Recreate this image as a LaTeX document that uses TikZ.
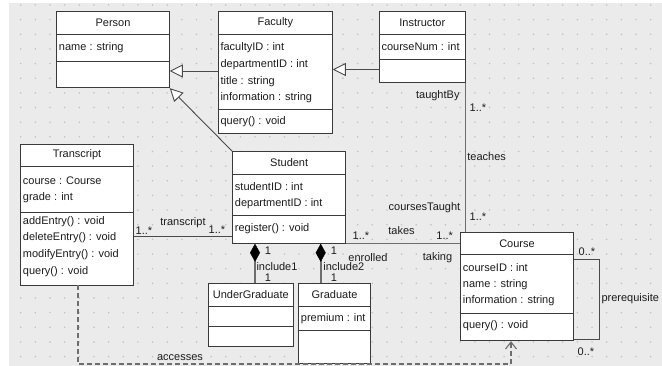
\documentclass[tikz,border=0pt]{standalone}
\usepackage{fontspec}
\setmainfont{Liberation Sans}
\usetikzlibrary{arrows.meta,fit}
\definecolor{bg}{HTML}{EBEBEB}
\definecolor{dotc}{HTML}{C0C0C0}
\definecolor{edge}{HTML}{3A3A3A}
\definecolor{conn}{HTML}{4A4A4A}
\definecolor{conng}{HTML}{6E6E6E}
\definecolor{txt}{HTML}{1C1C1C}
\tikzset{
  classbox/.style={draw=edge, line width=0.9pt, fill=white, inner sep=0pt},
  divider/.style={draw=edge, line width=0.9pt},
  ctitle/.style={font=\fontsize{11}{13}\selectfont, text=txt, inner sep=0pt},
  attr/.style={font=\fontsize{11}{13}\selectfont, text=txt, inner sep=0pt, anchor=west, xshift=2.5pt},
  lbl/.style={font=\fontsize{11}{13}\selectfont, text=txt, inner sep=0pt},
  assoc/.style={draw=conn, line width=0.9pt},
  heavy/.style={draw=conng, line width=1.4pt},
  gen/.style={assoc, -{Triangle[open, fill=white, length=13pt, width=13pt]}},
  comp/.style={draw=conng, line width=1.6pt, {Diamond[length=18pt, width=10pt, color=black, line width=0.4pt]}-},
  dep/.style={draw=conng, line width=1.1pt, dash pattern=on 5pt off 3pt, -{Straight Barb[length=7pt, width=11pt]}},
}
\newcommand{\umlcls}[8]{%
  \node[classbox, fit={(#2,#3) (#4,#5)}] (#1) {};
  \draw[divider] (#1.west |- 0,#6) -- (#1.east |- 0,#6);
  \draw[divider] (#1.west |- 0,#7) -- (#1.east |- 0,#7);
  \node[ctitle] (#1-title) at ({(#2+#4)/2},{(#3+#6)/2}) {#8};
}
\newcommand{\umlattr}[4]{\node[attr] (#1) at (#2.west |- 0,#3) {#4};}
\begin{document}
\begin{tikzpicture}[x=1pt, y=-1pt]
\useasboundingbox (0,0) rectangle (662,366);
\fill[white] (0,0) rectangle (662,366);
\fill[bg] (9,3) rectangle (662,366);
\begin{scope}
\clip (9,3) rectangle (662,366);
\foreach \i in {0,...,44}{\foreach \j in {0,...,24}{
  \fill[dotc] ({20.7+14.65*\i},{5+14.65*\j}) circle[radius=0.85pt];}}
\end{scope}

% classes
\umlcls{person}{56.7}{11.7}{169.3}{87.7}{34.3}{61.7}{Person}
\umlattr{pa1}{person}{47.7}{name : string}

\umlcls{faculty}{218.3}{11.7}{332.3}{133}{34.3}{109}{Faculty}
\umlattr{fa1}{faculty}{47.7}{facultyID : int}
\umlattr{fa2}{faculty}{64.5}{departmentID : int}
\umlattr{fa3}{faculty}{81.3}{title : string}
\umlattr{fa4}{faculty}{98}{information : string}
\umlattr{fa5}{faculty}{122}{query() : void}

\umlcls{instructor}{379.3}{11.7}{465.3}{82.3}{34.3}{59.3}{Instructor}
\umlattr{ia1}{instructor}{46.7}{courseNum : int}

\umlcls{transcript}{20.7}{144}{133.3}{285}{166}{212.7}{Transcript}
\umlattr{ta1}{transcript}{180.7}{course : Course}
\umlattr{ta2}{transcript}{197.3}{grade : int}
\umlattr{ta3}{transcript}{221.3}{addEntry() : void}
\umlattr{ta4}{transcript}{238}{deleteEntry() : void}
\umlattr{ta5}{transcript}{254.7}{modifyEntry() : void}
\umlattr{ta6}{transcript}{271.3}{query() : void}

\umlcls{student}{232.7}{151.7}{345.7}{243.3}{174}{215.7}{Student}
\umlattr{sa1}{student}{186.7}{studentID : int}
\umlattr{sa2}{student}{203.3}{departmentID : int}
\umlattr{sa3}{student}{229}{register() : void}

\umlcls{undergrad}{208.3}{283.3}{293.3}{346.7}{306.7}{326}{UnderGraduate}

\umlcls{graduate}{298.7}{283.3}{370.3}{363.3}{306}{330.7}{Graduate}
\umlattr{ga1}{graduate}{319}{premium : int}

\umlcls{course}{460.7}{232.3}{573.3}{340.7}{254.3}{313.3}{Course}
\umlattr{ca1}{course}{267.7}{courseID : int}
\umlattr{ca2}{course}{284.3}{name : string}
\umlattr{ca3}{course}{300.7}{information : string}
\umlattr{ca4}{course}{326}{query() : void}

% connectors
\draw[gen] (faculty.west |- 0,71) -- (person.east |- 0,71);
\draw[gen] (instructor.west |- 0,69.5) -- (faculty.east |- 0,69.5);
\draw[gen] (student.north west) -- (person.south east);
\draw[assoc] (transcript.east |- 0,236.7) -- (student.west |- 0,236.7);
\draw[heavy] (student.south east) -- (course.west |- student.south east);
\draw[heavy] (instructor.south east) -- (instructor.south east |- course.north);
\draw[comp] (student.south -| 255,0) -- (undergrad.north -| 255,0);
\draw[comp] (student.south -| 320.7,0) -- (graduate.north -| 320.7,0);
\coordinate (loopa) at (599.3,259.3);
\coordinate (loopb) at (599.3,339.3);
\draw[assoc] (course.east |- loopa) -- (loopa) -- (loopb) -- (course.east |- loopb);
\coordinate (depa) at (78,364);
\coordinate (depb) at (511,364);
\draw[dep] (transcript.south -| depa) -- (depa) -- (depb) -- (course.south -| depb);

% labels
\node[lbl] (l1) at (144,231) {1..*};
\node[lbl] (l2) at (183,222.3) {transcript};
\node[lbl] (l3) at (217,230) {1..*};
\node[lbl] (l4) at (361,236) {1..*};
\node[lbl] (l5) at (401.5,231) {takes};
\node[lbl] (l6) at (444.7,236) {1..*};
\node[lbl] (l7) at (368,257.3) {enrolled};
\node[lbl] (l8) at (437.5,257.3) {taking};
\node[lbl] (l9) at (424.5,207.3) {coursesTaught};
\node[lbl] (l10) at (478,216.5) {1..*};
\node[lbl] (l11) at (486.7,156.7) {teaches};
\node[lbl] (l12) at (437.8,95.7) {taughtBy};
\node[lbl] (l13) at (478,107.3) {1..*};
\node[lbl] (l14) at (268,250.7) {1};
\node[lbl] (l15) at (277,266.3) {include1};
\node[lbl] (l16) at (268,277.8) {1};
\node[lbl] (l17) at (334,250.7) {1};
\node[lbl] (l18) at (343.8,266.3) {include2};
\node[lbl] (l19) at (334,277.8) {1};
\node[lbl] (l20) at (587,251.7) {0..*};
\node[lbl] (l21) at (586,351.7) {0..*};
\node[lbl] (l22) at (630.3,299) {prerequisite};
\node[lbl] (l23) at (180,357.3) {accesses};
\end{tikzpicture}
\end{document}
